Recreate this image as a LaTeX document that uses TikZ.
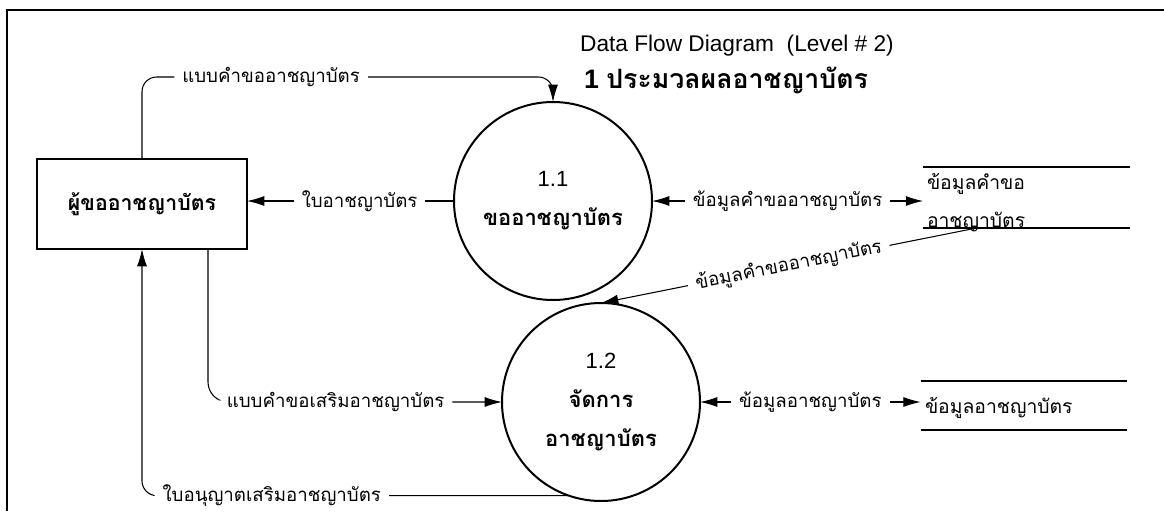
\documentclass[tikz,border=0pt]{standalone}
\usepackage{fontspec}
\setmainfont{Liberation Sans}
\newfontfamily\thaifont[Script=Thai]{Loma}
\usetikzlibrary{arrows.meta}

\begin{document}
\begin{tikzpicture}[x=0.75pt, y=-0.75pt]
\tikzset{ >={Latex[length=13pt, width=7.5pt]}, inner sep=0pt, outer sep=0pt,
  flow/.style={line width=0.8pt},
  lbl/.style={font=\thaifont\fontsize{14}{16}\selectfont, fill=white, inner xsep=6pt, inner ysep=3pt},
  entity/.style={draw, line width=1.5pt, minimum width=157.5pt, minimum height=67.5pt,
    font=\thaifont\bfseries\fontsize{16}{18}\selectfont},
  process/.style={draw, circle, line width=1.5pt, minimum size=148.5pt, align=center,
    font=\fontsize{16.5}{29.5}\selectfont},
  store/.style={minimum width=155pt},
  storetext/.style={font=\thaifont\fontsize{14.5}{28.5}\selectfont, align=left, anchor=west},
}

\useasboundingbox (0,0) rectangle (1164,511);

%\draw [lightgray, dashed](0,0) grid [step=50] (1164,511);

\draw [line width=1.5pt] (1164,10) -- (6.5,10) -- (6.5,511);

\node (title) at (737,46) {\fontsize{17}{20}\selectfont Data Flow Diagram~~(Level \# 2)};
\node (sub) at (726,80) {\fontsize{20}{22}\selectfont\bfseries 1 {\thaifont ประมวลผลอาชญาบัตร}};

\node [entity] (U) at (142,204) {ผู้ขออาชญาบัตร};
\node [process] (P1) at (553,201) {1.1\\{\thaifont\bfseries ขออาชญาบัตร}};
\node [process] (P2) at (601,402) {1.2\\{\thaifont\bfseries จัดการ}\\{\thaifont\bfseries อาชญาบัตร}};

\node [store, minimum height=45.75pt] (D1) at (1026.5,197.5) {};
\node [store, minimum height=36.75pt] (D2) at (1024,405.5) {};
\draw [line width=1.5pt] (D1.north west) -- (D1.north east);
\draw [line width=1.5pt] (D1.south west) -- (D1.south east);
\draw [line width=1.5pt] (D2.north west) -- (D2.north east);
\draw [line width=1.5pt] (D2.south west) -- (D2.south east);
\node [storetext] (D1t) at (927,203) {ข้อมูลคำขอ\\อาชญาบัตร};
\node [storetext] (D2t) at (925,408) {ข้อมูลอาชญาบัตร};

\coordinate (T1) at (553,77);
\coordinate (D1out) at ([xshift=40pt]D1.south west);

\draw [flow, ->, rounded corners=11pt] (U.north) |- node [lbl, pos=0.657] {แบบคำขออาชญาบัตร} (T1) -- (P1.north);
\draw [flow, ->] (P1.west) -- node [lbl, pos=0.456] {ใบอาชญาบัตร} (P1.west -| U.east);
\draw [flow, <->] (P1.east) -- node [lbl] {ข้อมูลคำขออาชญาบัตร} (P1.east -| D1.west);
\draw [flow, ->] (D1out) -- node [lbl, sloped] {ข้อมูลคำขออาชญาบัตร} (P2.north);
\draw [flow, ->, rounded corners=15pt] ([xshift=-29.25pt]U.south east) |- node [lbl, pos=0.717] {แบบคำขอเสริมอาชญาบัตร} (P2.west);
\draw [flow, <->] (P2.east) -- node [lbl] {ข้อมูลอาชญาบัตร} (P2.east -| D2.west);
\draw [flow, ->, rounded corners=11pt] (P2.251) -| node [lbl, pos=0.348] {ใบอนุญาตเสริมอาชญาบัตร} (U.south);

\end{tikzpicture}
\end{document}
